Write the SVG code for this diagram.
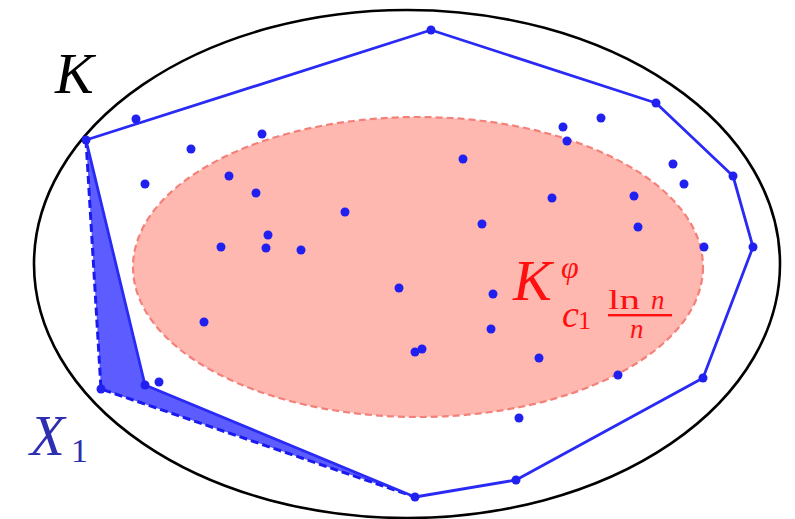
<svg xmlns="http://www.w3.org/2000/svg" width="795" height="519" viewBox="0 0 795 519">
<style>
.dot{fill:#2020f0}
.hull{fill:none;stroke:#2a2af5;stroke-width:2.8;stroke-linejoin:round}
.dash{fill:none;stroke:#1a1af0;stroke-width:3;stroke-dasharray:8 4}
.math{font-family:"Liberation Serif","DejaVu Serif",serif;font-style:italic}
.rm{font-family:"Liberation Serif","DejaVu Serif",serif}
.red{fill:#ff1010}
</style>
<rect width="795" height="519" fill="#ffffff"/>
<g id="K-body">
<ellipse cx="407" cy="264" rx="373" ry="254" fill="none" stroke="#000" stroke-width="2.6"/>
</g>
<g id="K-phi">
<ellipse cx="418" cy="267" rx="285" ry="150" fill="#ffb8b0" stroke="#f4807a" stroke-width="2.2" stroke-dasharray="7 4"/>
</g>
<g id="X1-region">
<polygon points="86,140 145,385 415,497 101,389" fill="#5c5cff"/>
<polyline class="dash" points="86,140 101,389 415,497"/>
</g>
<g id="hull">
<polygon class="hull" points="86,140 431,30 656,103 733,176 753,247 703,378 516,480 415,497 145,385"/>
</g>
<g id="points">
<circle class="dot" cx="86" cy="140" r="4.5"/>
<circle class="dot" cx="431" cy="30" r="4.5"/>
<circle class="dot" cx="656" cy="103" r="4.5"/>
<circle class="dot" cx="733" cy="176" r="4.5"/>
<circle class="dot" cx="753" cy="247" r="4.5"/>
<circle class="dot" cx="703" cy="378" r="4.5"/>
<circle class="dot" cx="516" cy="480" r="4.5"/>
<circle class="dot" cx="415" cy="497" r="4.5"/>
<circle class="dot" cx="145" cy="385" r="4.5"/>
<circle class="dot" cx="101" cy="389" r="4.5"/>
<circle class="dot" cx="159" cy="382" r="4.5"/>
<circle class="dot" cx="136" cy="119" r="4.5"/>
<circle class="dot" cx="262" cy="134" r="4.5"/>
<circle class="dot" cx="191" cy="149" r="4.5"/>
<circle class="dot" cx="229" cy="176" r="4.5"/>
<circle class="dot" cx="256" cy="193" r="4.5"/>
<circle class="dot" cx="145" cy="184" r="4.5"/>
<circle class="dot" cx="345" cy="212" r="4.5"/>
<circle class="dot" cx="268" cy="235" r="4.5"/>
<circle class="dot" cx="221" cy="247" r="4.5"/>
<circle class="dot" cx="266" cy="248" r="4.5"/>
<circle class="dot" cx="301" cy="250" r="4.5"/>
<circle class="dot" cx="463" cy="159" r="4.5"/>
<circle class="dot" cx="563" cy="127" r="4.5"/>
<circle class="dot" cx="601" cy="118" r="4.5"/>
<circle class="dot" cx="567" cy="141" r="4.5"/>
<circle class="dot" cx="673" cy="164" r="4.5"/>
<circle class="dot" cx="684" cy="184" r="4.5"/>
<circle class="dot" cx="552" cy="198" r="4.5"/>
<circle class="dot" cx="482" cy="224" r="4.5"/>
<circle class="dot" cx="634" cy="196" r="4.5"/>
<circle class="dot" cx="638" cy="227" r="4.5"/>
<circle class="dot" cx="704" cy="247" r="4.5"/>
<circle class="dot" cx="399" cy="288" r="4.5"/>
<circle class="dot" cx="493" cy="294" r="4.5"/>
<circle class="dot" cx="491" cy="329" r="4.5"/>
<circle class="dot" cx="204" cy="322" r="4.5"/>
<circle class="dot" cx="415" cy="352" r="4.5"/>
<circle class="dot" cx="422" cy="349" r="4.5"/>
<circle class="dot" cx="539" cy="358" r="4.5"/>
<circle class="dot" cx="618" cy="375" r="4.5"/>
<circle class="dot" cx="519" cy="418" r="4.5"/>
</g>
<g id="labels">
<text class="math" x="55" y="93" font-size="58" fill="#000">K</text>
<text class="math" x="30" y="455" font-size="57" fill="#2e2eb0">X</text>
<text class="rm" x="71" y="462" font-size="34" fill="#2e2eb0">1</text>
<text class="math red" x="513" y="300" font-size="58">K</text>
<text class="math red" x="561" y="278" font-size="32">φ</text>
<text class="math red" x="562" y="327" font-size="38">c</text>
<text class="rm red" x="578" y="329" font-size="26">1</text>
<text class="rm red" x="608" y="309" font-size="27" textLength="32" lengthAdjust="spacingAndGlyphs">ln</text>
<text class="math red" x="651" y="309" font-size="27">n</text>
<rect class="red" x="608" y="314" width="64" height="2.4"/>
<text class="math red" x="630" y="338" font-size="27">n</text>
</g>
</svg>
